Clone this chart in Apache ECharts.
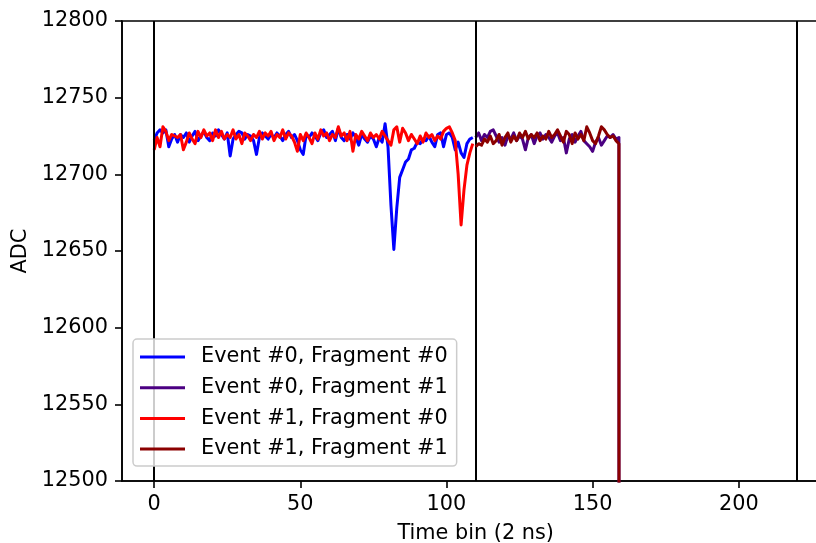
<!DOCTYPE html>
<html>
<head>
<meta charset="utf-8">
<script src="https://cdn.jsdelivr.net/npm/echarts@6/dist/echarts.min.js"></script>
<style>
html,body{margin:0;padding:0;background:#fff;}
#chart{width:816px;height:543px;}
</style>
</head>
<body>
<div id="chart"></div>
<script>
// ---- data ----
const seriesNames = ['Event #0, Fragment #0', 'Event #0, Fragment #1', 'Event #1, Fragment #0', 'Event #1, Fragment #1'];
const seriesColors = ['#0000ff', '#4b0082', '#ff0000', '#8b0000'];
const frag0StartBin = 0;
const frag1StartBin = 110;
const xTicks = [0, 50, 100, 150, 200];
const yTicks = [12500, 12550, 12600, 12650, 12700, 12750, 12800];
const fragmentBoundaries = [0, 110, 220];

const ev0frag0 = [
12722,12727,12729,12727,12729,12718,12723,12726,12721,12726,
12724,12727,12721,12725,12728,12722,12725,12728,12724,12722,
12727,12725,12729,12726,12723,12727,12712,12723,12726,12728,
12727,12723,12726,12725,12722,12713,12724,12727,12725,12723,
12726,12724,12727,12725,12722,12726,12728,12724,12726,12722,
12716,12713,12726,12724,12727,12725,12722,12727,12729,12724,
12726,12728,12722,12730,12724,12722,12726,12723,12727,12724,
12719,12726,12723,12721,12725,12723,12718,12724,12721,12733,
12718,12680,12651,12678,12698,12703,12708,12710,12716,12717,
12721,12720,12723,12722,12725,12721,12718,12726,12727,12718,
12726,12727,12724,12716,12721,12714,12711,12720,12723,12724
];
const ev1frag0 = [
12716,12724,12718,12731,12728,12722,12726,12725,12724,12726,
12716,12721,12727,12723,12720,12728,12724,12729,12725,12727,
12722,12729,12724,12728,12723,12726,12724,12729,12723,12726,
12720,12727,12725,12722,12726,12724,12728,12723,12727,12725,
12728,12722,12726,12724,12729,12723,12727,12725,12721,12715,
12726,12722,12727,12724,12720,12727,12723,12729,12725,12727,
12722,12726,12724,12731,12725,12727,12722,12728,12715,12726,
12723,12728,12725,12722,12727,12724,12726,12723,12728,12725,
12722,12719,12729,12731,12721,12730,12727,12722,12726,12723,
12720,12725,12721,12727,12724,12726,12722,12725,12723,12728,
12730,12731,12727,12722,12700,12667,12690,12706,12714,12720
];
const ev0frag1 = [
12724,12727,12722,12726,12724,12728,12729,12725,12721,12724,
12719,12725,12723,12727,12722,12725,12723,12716,12724,12726,
12720,12725,12727,12723,12726,12724,12721,12725,12727,12722,
12724,12714,12723,12726,12721,12725,12728,12722,12720,12718,
12715,12721,12724,12719,12722,12725,12724,12726,12723,12724,
0,0,0,0,0,0,0,0,0,0,
0,0,0,0,0,0,0,0,0,0,
0,0,0,0,0,0,0,0,0,0,
0,0,0,0,0,0,0,0,0,0,
0,0,0,0,0,0,0,0,0,0,
0,0,0,0,0,0,0,0,0,0
];
const ev1frag1 = [
12718,12720,12719,12723,12721,12725,12720,12722,12726,12719,
12724,12727,12721,12725,12722,12727,12724,12728,12723,12726,
12724,12727,12722,12725,12723,12728,12724,12726,12729,12725,
12721,12728,12726,12720,12727,12723,12726,12722,12731,12727,
12722,12720,12725,12731,12729,12726,12724,12725,12722,12720,
0,0,0,0,0,0,0,0,0,0,
0,0,0,0,0,0,0,0,0,0,
0,0,0,0,0,0,0,0,0,0,
0,0,0,0,0,0,0,0,0,0,
0,0,0,0,0,0,0,0,0,0,
0,0,0,0,0,0,0,0,0,0
];

// ---- build ----
function pairs(values, start) { return values.map((v, i) => [start + i, v]); }
const seriesData = [
  pairs(ev0frag0, frag0StartBin),
  pairs(ev0frag1, frag1StartBin),
  pairs(ev1frag0, frag0StartBin),
  pairs(ev1frag1, frag1StartBin)
];

const FONT = 'DejaVu Sans';
const FS = 20.8;

const series = seriesNames.map((name, k) => ({
  name: name,
  type: 'line',
  data: seriesData[k],
  symbol: 'none',
  showSymbol: false,
  clip: true,
  animation: false,
  z: 2 + k,
  lineStyle: { color: seriesColors[k], width: 3, join: 'round' },
  itemStyle: { color: seriesColors[k] }
}));
series.push({
  name: 'boundaries',
  type: 'line',
  data: [],
  symbol: 'none',
  animation: false,
  z: 10,
  markLine: {
    silent: true,
    symbol: ['none', 'none'],
    animation: false,
    label: { show: false },
    lineStyle: { color: '#000', width: 2, type: 'solid' },
    emphasis: { disabled: true },
    data: fragmentBoundaries.map(x => ({ xAxis: x }))
  }
});

const chart = echarts.init(document.getElementById('chart'), null, { renderer: 'canvas' });
chart.setOption({
  animation: false,
  backgroundColor: '#ffffff',
  grid: {
    left: 122, top: 21, right: -13.4, bottom: 62,
    containLabel: false,
    outerBoundsMode: 'none',
    show: true, borderColor: '#000', borderWidth: 1.6, backgroundColor: 'transparent'
  },
  xAxis: {
    type: 'value',
    min: -11, max: 231,
    name: 'Time bin (2 ns)',
    nameLocation: 'middle',
    nameGap: 42,
    nameTextStyle: { fontFamily: FONT, fontSize: FS, color: '#000' },
    axisLine: { show: true, onZero: false, lineStyle: { color: '#000', width: 1.6 } },
    axisTick: { show: true, inside: false, length: 7, lineStyle: { color: '#000', width: 1.6 }, customValues: xTicks },
    axisLabel: { fontFamily: FONT, fontSize: FS, color: '#000', margin: 13, customValues: xTicks },
    splitLine: { show: false }
  },
  yAxis: {
    type: 'value',
    min: 12500, max: 12800, interval: 50,
    name: 'ADC',
    nameLocation: 'middle',
    nameGap: 83,
    nameTextStyle: { fontFamily: FONT, fontSize: FS, color: '#000' },
    axisLine: { show: true, onZero: false, lineStyle: { color: '#000', width: 1.6 } },
    axisTick: { show: true, inside: false, length: 7, lineStyle: { color: '#000', width: 1.6 }, customValues: yTicks },
    axisLabel: { fontFamily: FONT, fontSize: FS, color: '#000', margin: 14, customValues: yTicks, formatter: v => String(v) },
    splitLine: { show: false }
  },
  legend: {
    data: seriesNames.map(n => ({ name: n, icon: 'rect' })),
    orient: 'vertical',
    left: 133, top: 339,
    padding: [6, 9, 5, 7],
    itemWidth: 45, itemHeight: 3, itemGap: 6.7,
    backgroundColor: 'rgba(255,255,255,0.8)',
    borderColor: '#cccccc', borderWidth: 1.5, borderRadius: 4,
    z: 20,
    textStyle: { fontFamily: FONT, fontSize: FS, color: '#000', lineHeight: 24, padding: [0, 0, 0, 11] },
    selectedMode: false
  },
  series: series
});
</script>
</body>
</html>
